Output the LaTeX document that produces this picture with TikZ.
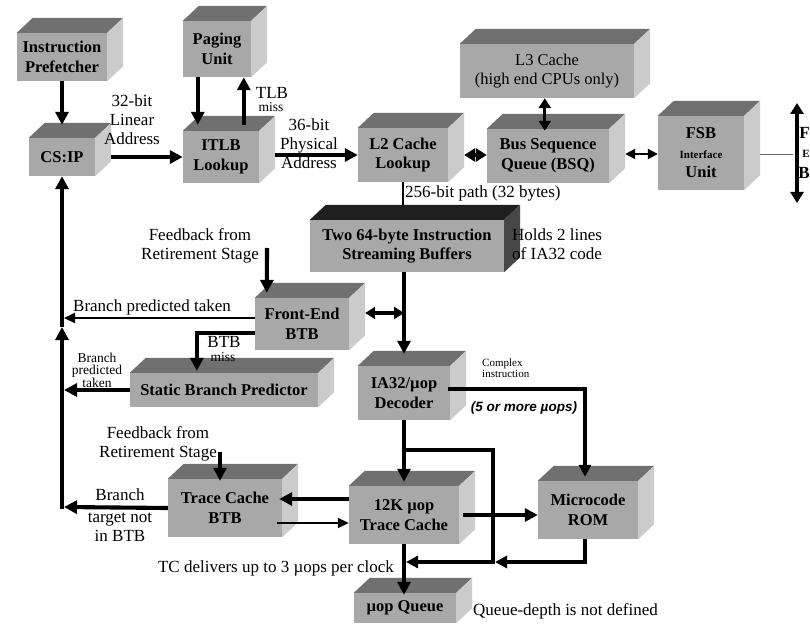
\documentclass[tikz,border=0pt]{standalone}
\usepackage{fontspec}
\setmainfont{Liberation Serif}
\newfontfamily\labsans{Liberation Sans}
\usetikzlibrary{arrows.meta,calc}
\definecolor{frontc}{HTML}{A8A8A8}
\definecolor{topc}{HTML}{707070}
\definecolor{sidec}{HTML}{CBCBCB}
\newcommand{\cube}[6]{%
  \node[cubefront, minimum width=#4, minimum height=#5] (#1) at (#2,#3) {#6};
  \fill[cubetop] (#1.north west) -- ++(16,-15) -- ([shift={(16,-15)}]#1.north east) -- (#1.north east) -- cycle;
  \fill[cubeside] (#1.north east) -- ++(16,-15) -- ([shift={(16,-15)}]#1.south east) -- (#1.south east) -- cycle;
}
\begin{document}
\begin{tikzpicture}[x=1pt,y=-1pt,
  cubefront/.style={fill=frontc, draw=none, inner sep=0pt, align=center,
    font=\bfseries\fontsize{16.5}{19.5}\selectfont},
  cubetop/.style={fill=topc},
  cubeside/.style={fill=sidec},
  lab/.style={inner sep=0pt, align=center, font=\fontsize{17}{19}\selectfont},
  smalllab/.style={inner sep=0pt, align=center, font=\fontsize{13.5}{12.5}\selectfont},
  tinylab/.style={inner sep=0pt, align=left, font=\fontsize{11}{11}\selectfont},
  arrbig/.style={line width=4.1pt, line join=miter, -{Triangle[length=13pt,width=13pt]}},
  arrmed/.style={line width=3.2pt, line join=miter, -{Triangle[length=12pt,width=12pt]}},
  arrthin/.style={line width=2pt, -{Triangle[length=11pt,width=10pt]}},
  dblbig/.style={line width=4.1pt, {Triangle[length=11pt,width=13pt]}-{Triangle[length=11pt,width=13pt]}},
  dblmed/.style={line width=3.2pt, {Triangle[length=10pt,width=12pt]}-{Triangle[length=10pt,width=12pt]}},
  dblthin/.style={line width=2pt, {Triangle[length=10pt,width=10pt]}-{Triangle[length=10pt,width=10pt]}},
  plainline/.style={line width=2pt}]
\useasboundingbox (0,0) rectangle (810,628);
\fill[white] (0,0) rectangle (810,628);

% ---------- boxes ----------
\cube{pref}{62}{57}{90pt}{48pt}{Instruction\\Prefetcher}
\cube{paging}{217}{49}{68pt}{56pt}{Paging\\Unit}
\cube{csip}{62}{157}{66pt}{38pt}{CS:IP}
\cube{itlb}{221}{157}{76pt}{52pt}{ITLB\\Lookup}
\cube{l2}{403}{155}{90pt}{54pt}{L2 Cache\\Lookup}
\cube{l3}{547}{71}{174pt}{54pt}{\mdseries L3 Cache\\\mdseries (high end CPUs only)}
\cube{bsq}{548}{156}{122pt}{54pt}{Bus Sequence\\Queue (BSQ)}
\cube{fsb}{701}{153}{86pt}{74pt}{FSB\\{\fontsize{11}{14}\selectfont Interface}\\Unit}
\begin{scope}[cubetop/.style={fill=black!88}, cubeside/.style={fill=black!72}]
\cube{buf}{407}{246}{194pt}{52pt}{Two 64-byte Instruction\\Streaming Buffers}
\end{scope}
\cube{febtb}{302}{324}{94pt}{52pt}{Front-End\\BTB}
\cube{static}{224}{390}{188pt}{34pt}{Static Branch Predictor}
\cube{dec}{404}{393}{92pt}{54pt}{IA32/µop\\Decoder}
\cube{tcbtb}{225}{508}{114pt}{58pt}{Trace Cache\\BTB}
\cube{tc}{404}{515}{110pt}{58pt}{12K µop\\Trace Cache}
\cube{rom}{588}{510}{100pt}{58pt}{Microcode\\ROM}
\cube{queue}{405}{608}{102pt}{30pt}{µop Queue}

% ---------- coordinates ----------
\coordinate (busT) at (797,103);
\coordinate (busB) at (797,203);
\coordinate (busM) at (793,154);
\coordinate (fb1s) at (267,248);
\coordinate (fb2s) at (220,452);
\coordinate (j1) at (64,318);
\coordinate (jc) at (62,507);
\coordinate (jm) at (62,327);
\coordinate (la) at (404,450);
\coordinate (lb) at (493,450);
\coordinate (lc) at (493,562);

% ---------- connectors ----------
\draw[arrbig] (pref.south) -- ($(csip.north -| pref.south)+(0,-13)$);
\draw[arrbig] ($(csip.east)+(16,0)$) -- (itlb.west |- csip.east);
\draw[arrbig] ($(paging.south west)+(15,0)$) -- ($(itlb.north west)+(15,-6)$);
\draw[arrbig] ($(itlb.north west)+(61,-6)$) -- ($(paging.south west)+(61,0)$);
\draw[arrbig] ($(itlb.east |- l2.west)+(16,0)$) -- (l2.west);
\draw[dblbig] ($(l2.east)+(16,0)$) -- (bsq.west |- l2.east);
\draw[dblmed] ($(l3.south west)+(85,0)$) -- ($(bsq.north west)+(58,2)$);
\draw[dblthin] ($(bsq.east)+(16,-2)$) -- (fsb.west |- {$(bsq.east)+(0,-2)$});
\draw[line width=0.6pt, black!60] ($(fsb.east)+(16,1)$) -- (busM);
\draw[dblbig] (busB) -- (busT);
\draw[plainline] (l2.south) -- ($(buf.north -| l2.south)+(0,-15)$);
\draw[arrbig] (buf.south -| dec.north) -- ($(dec.north)+(0,-12)$);
\coordinate (feR) at ($(febtb.east)+(16,-11)$);
\draw[dblmed] (feR) -- (feR -| dec.north);
\draw[arrbig] (fb1s) -- ($(febtb.north west)+(12,-5)$);
\draw[arrthin] ($(febtb.west)+(0,-6)$) -- (j1);
\draw[arrbig] ($(febtb.west)+(0,9)$) -| ($(static.north west)+(67,-2)$);
\draw[arrbig] (static.west) -- (static.west -| j1);
\draw[arrbig] (tcbtb.west) -- ($(jc)+(2,0)$);
\draw[arrbig] ($(jc)+(0,2)$) -- (jm);
\draw[arrbig] (jm) -- (csip.south);
\draw[arrbig] (fb2s) -- ($(tcbtb.north)+(-5,2)$);
\draw[arrbig] ($(tc.west)+(0,-16)$) -- ($(tcbtb.east)+(-3,-9)$);
\draw[arrthin] ($(tcbtb.east)+(-5,15)$) -- ($(tc.west)+(0,8)$);
\draw[arrbig] (dec.south) -- ($(tc.north)+(0,-4)$);
\draw[arrmed] (la) -- (lb) -- (lc) -- ($(tc.south |- lc)+(2,0)$);
\draw[arrmed] ($(rom.south)+(-3,0)$) |- ($(lc)+(2,0)$);
\draw[arrmed] ($(dec.east)+(-2,-4)$) -| ($(rom.north)+(-3,-4)$);
\draw[arrbig] ($(tc.east)+(4,0)$) -- (rom.west |- tc.east);
\draw[arrbig] (tc.south) -- ($(queue.north -| tc.south)+(0,2)$);

% ---------- labels ----------
\node[lab] (t32) at (132,120) {32-bit\\Linear\\Address};
\node[lab] (ttlb) at (272,93) {TLB};
\node[smalllab] (tmiss) at (271,107) {miss};
\node[lab] (t36) at (309,144) {36-bit\\Physical\\Address};
\node[lab, anchor=west] (t256) at (405,193) {256-bit path (32 bytes)};
\node[lab, anchor=west, align=left] (tholds) at (512,244) {Holds 2 lines\\of IA32 code};
\node[lab] (tfb1) at (200,246) {Feedback from\\Retirement Stage};
\node[lab] (tbpt) at (152,307) {Branch predicted taken};
\node[lab] (tbtb) at (224,342) {BTB};
\node[smalllab] (tbmiss) at (223,357) {miss};
\node[smalllab] (tbpt2) at (97,370) {Branch\\predicted\\taken};
\node[tinylab, anchor=west] (tcomplex) at (482,368) {Complex\\instruction};
\node[inner sep=0pt, font=\labsans\bfseries\itshape\fontsize{13.5}{15}\selectfont] (t5) at (524,408) {(5 or more µops)};
\node[lab] (tfb2) at (158,444) {Feedback from\\Retirement Stage};
\node[lab] (tbr) at (120,495) {Branch};
\node[lab] (ttnot) at (120,527) {target not\\in BTB};
\node[lab] (tdel) at (276,568) {TC delivers up to 3 µops per clock};
\node[lab, anchor=west] (tqd) at (473,611) {Queue-depth is not defined};
\node[inner sep=0pt, anchor=east, font=\bfseries\fontsize{17}{19}\selectfont] (tF) at (810,133) {F};
\node[inner sep=0pt, anchor=east, font=\bfseries\fontsize{11}{12}\selectfont] (tE) at (810,154) {E};
\node[inner sep=0pt, anchor=east, font=\bfseries\fontsize{17}{19}\selectfont] (tB) at (810,173) {B};
\end{tikzpicture}
\end{document}
